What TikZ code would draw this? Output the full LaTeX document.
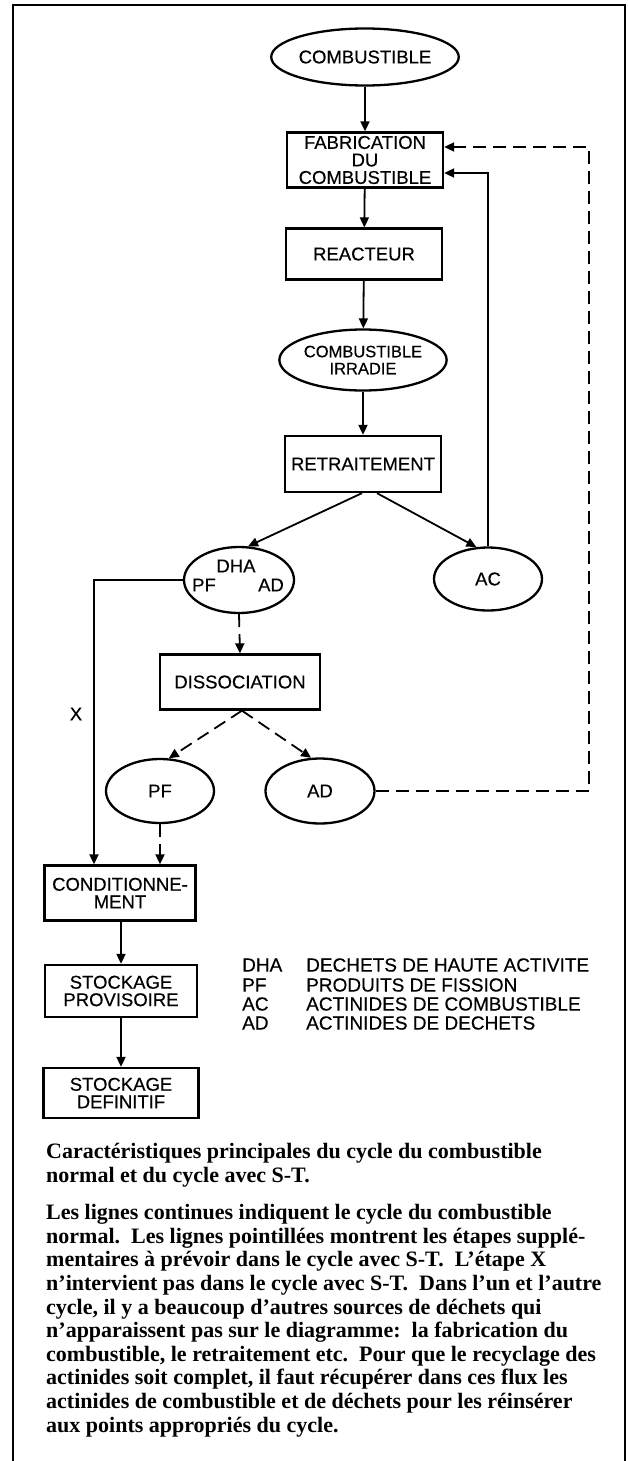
\documentclass[tikz,border=0pt]{standalone}
\usepackage{fontspec}
\setmainfont{Liberation Serif}
\setsansfont[BoldFont={Liberation Sans},BoldFeatures={FakeBold=0.35}]{Liberation Sans}
\usetikzlibrary{shapes.geometric,arrows.meta}
\begin{document}
\begin{tikzpicture}[x=1pt,y=-1pt,
  lbl/.style={font=\sffamily\bfseries\fontsize{18.5}{17.5}\selectfont, align=center, inner sep=0pt},
  boxn/.style={draw, line width=2.3pt, rectangle, lbl},
  ell/.style={draw, line width=2.3pt, ellipse, lbl},
  conn/.style={line width=1.8pt, -{Triangle[length=10pt,width=9pt]}},
  dsh/.style={dash pattern=on 13pt off 7pt},
  leg/.style={font=\sffamily\bfseries\fontsize{19}{19}\selectfont, anchor=west, inner sep=0pt},
  para/.style={font=\rmfamily\bfseries\fontsize{22}{23.6}\selectfont, align=left, anchor=base west, inner sep=0pt}]
\useasboundingbox (0,0) rectangle (628,1461);
% frame
\draw[line width=2pt] (13,1461) -- (13,5) -- (625,5) -- (625,1461);
% nodes
\node[ell, minimum width=150pt, minimum height=57pt] (comb) at (365,57) {COMBUSTIBLE};
\node[boxn, minimum width=156pt, minimum height=55pt] (fab) at (365,160) {FABRICATION\\DU\\COMBUSTIBLE};
\node[boxn, minimum width=156pt, minimum height=51pt] (reac) at (364,254) {REACTEUR};
\node[ell, minimum width=151pt, minimum height=61pt, font=\sffamily\bfseries\fontsize{16.5}{17}\selectfont] (irr) at (363,360) {COMBUSTIBLE\\IRRADIE};
\node[boxn, minimum width=156pt, minimum height=56pt] (retr) at (363,464) {RETRAITEMENT};
\node[ell, minimum width=110pt, minimum height=66pt] (dha) at (239,580) {};
\node[lbl] (dhaA) at (236,566) {DHA};
\node[lbl] (dhaP) at (204,585) {PF};
\node[lbl] (dhaD) at (271,585) {AD};
\node[ell, minimum width=108pt, minimum height=63pt] (ac) at (488,579) {AC};
\node[boxn, minimum width=160pt, minimum height=55pt] (diss) at (240,682) {DISSOCIATION};
\node[ell, minimum width=108pt, minimum height=64pt] (pf) at (160,791) {PF};
\node[ell, minimum width=109pt, minimum height=65pt] (ad) at (320,791) {AD};
\node[boxn, minimum width=151pt, minimum height=55pt] (cond) at (120,893) {CONDITIONNE-\\MENT};
\node[boxn, minimum width=152pt, minimum height=52pt] (prov) at (121,991) {STOCKAGE\\PROVISOIRE};
\node[boxn, minimum width=155pt, minimum height=50pt] (def) at (121,1093) {STOCKAGE\\DEFINITIF};
\node[lbl] (xlab) at (76,714) {X};
% solid connectors
\draw[conn] (comb) -- (fab);
\draw[conn] (fab) -- (reac);
\draw[conn] (reac) -- (irr);
\draw[conn] (irr) -- (retr);
\draw[conn] ([xshift=-1pt]retr.south) -- (dha.75);
\draw[conn] ([xshift=14pt]retr.south) -- (ac.110);
\draw[conn] (ac.north) |- ([yshift=-13pt]fab.east);
\draw[conn] (dha.west) -| ([xshift=-26pt]cond.north);
\draw[conn] ([xshift=1pt]cond.south) -- ([xshift=1pt]cond.south |- prov.north);
\draw[conn] (prov) -- (def);
% dashed connectors
\draw[conn,dsh] (dha.south) -- (diss.north);
\draw[conn,dsh] ([xshift=2pt]diss.south) -- (pf.75);
\draw[conn,dsh] ([xshift=2pt]diss.south) -- (ad.105);
\draw[conn,dsh] (pf.south) -- (pf.south |- cond.north);
\coordinate (rc) at (589,147);
\draw[conn,dsh] (ad.east) -| (rc) -- ([yshift=13pt]fab.east);
% legend
\node[leg] (l1a) at (242,965) {DHA};
\node[leg] (l1b) at (306,965) {DECHETS DE HAUTE ACTIVITE};
\node[leg] (l2a) at (242,985) {PF};
\node[leg] (l2b) at (306,985) {PRODUITS DE FISSION};
\node[leg] (l3a) at (242,1004) {AC};
\node[leg] (l3b) at (306,1004) {ACTINIDES DE COMBUSTIBLE};
\node[leg] (l4a) at (242,1023) {AD};
\node[leg] (l4b) at (306,1023) {ACTINIDES DE DECHETS};
% caption
\node[para] (cap1) at (46,1182) {Caractéristiques principales du cycle du combustible\\normal et du cycle avec S-T.};
\node[para] (cap2) at (46,1432) {Les lignes continues indiquent le cycle du combustible\\
normal.\ \ Les lignes pointillées montrent les étapes supplé-\\
mentaires à prévoir dans le cycle avec S-T.\ \ L’étape X\\
n’intervient pas dans le cycle avec S-T.\ \ Dans l’un et l’autre\\
cycle, il y a beaucoup d’autres sources de déchets qui\\
n’apparaissent pas sur le diagramme:\ \ la fabrication du\\
combustible, le retraitement etc.\ \ Pour que le recyclage des\\
actinides soit complet, il faut récupérer dans ces flux les\\
actinides de combustible et de déchets pour les réinsérer\\
aux points appropriés du cycle.};
\end{tikzpicture}
\end{document}
